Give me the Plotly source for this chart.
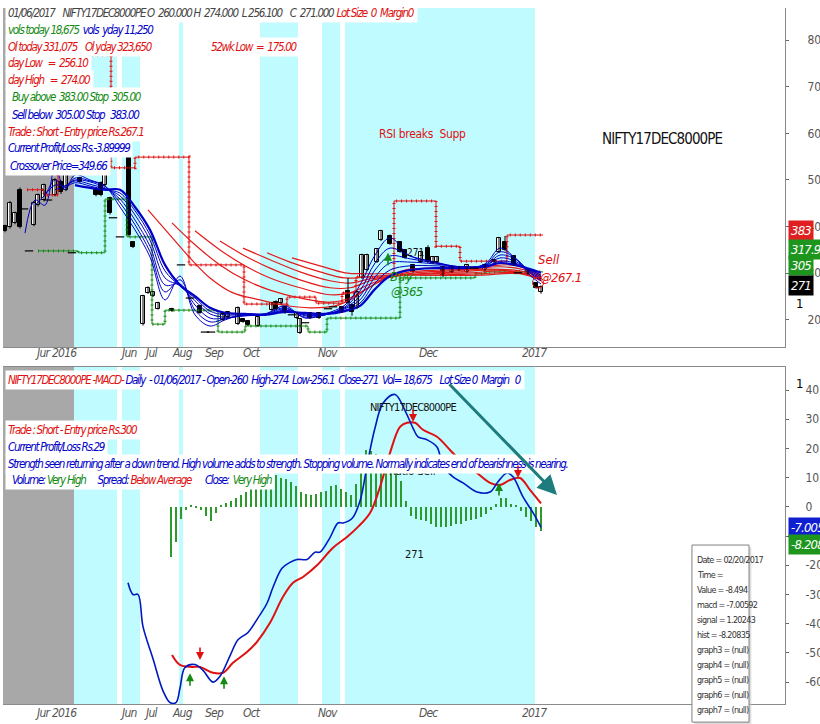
import plotly.graph_objects as go

NARROW = "Liberation Sans Narrow, Arial Narrow, DejaVu Sans Condensed, Liberation Sans, sans-serif"
CYAN = '#bffbff'
GRAY_BAND = '#a8a8a8'
BLUE = '#0000c8'
RED = '#e01010'
GREEN = '#138a13'

# ---------------- price panel (x = bar slot) ----------------
CANDLE_X = [1.0, 2.0, 3.0, 4.0, 4.8, 5.8, 6.8, 7.6, 8.8, 9.6, 11.0, 12.2, 13.2, 14.4, 16.0,
            19.2, 20.2, 21.0, 22.0, 22.6, 24.0, 25.8, 26.6, 28.6, 29.6, 30.6, 31.6, 34.4,
            36.2, 38.0, 40.0, 41.0, 42.2, 44.6, 45.6, 47.6, 48.6, 49.6, 51.6, 54.4, 55.2,
            56.2, 57.0, 58.4, 59.4, 60.0, 61.0, 62.0, 63.8, 65.6, 66.6, 68.4, 69.6, 70.4,
            71.4, 72.4, 73.4, 75.4, 76.2, 78.0, 80.0, 81.0, 82.6, 84.2, 85.6, 86.6, 87.4,
            88.6, 90.4, 91.8, 93.4, 94.8, 97.0, 98.8, 99.8, 101.0, 102.8, 103.6, 105.6,
            107.2, 108.2]
OPEN = [401, 399, 408, 479, 438, 348, 404, 446, 457, 457, 468, 496, 479, 344, 504,
        479, 494, 489, 461, 419, 378, 575, 367, 191, 258, 251, 224, 224,
        318, 247, 230, 174, 174, 200, 206, 191, 202, 198, 187, 221, 239,
        236, 228, 211, 204, 172, 194, 215, 215, 224, 228, 228, 262, 232,
        226, 290, 307, 324, 371, 380, 367, 350, 318, 324, 354, 322, 324,
        314, 303, 314, 303, 311, 307, 329, 346, 367, 337, 301, 307,
        279, 260]
HIGH = [404, 455, 432, 484, 438, 348, 455, 471, 492, 457, 504, 499, 521, 344, 507,
        482, 497, 547, 464, 419, 378, 580, 369, 254, 272, 262, 239, 226,
        318, 247, 233, 174, 174, 216, 219, 229, 204, 200, 208, 239, 242,
        247, 230, 211, 217, 204, 194, 217, 217, 224, 228, 230, 290, 234,
        262, 342, 342, 354, 393, 383, 369, 352, 320, 348, 360, 337, 337,
        316, 316, 316, 320, 311, 320, 331, 378, 380, 339, 301, 309,
        281, 274]
LOW = [388, 396, 405, 396, 438, 348, 401, 443, 454, 457, 465, 470, 476, 344, 494,
       465, 465, 486, 426, 419, 378, 379, 354, 188, 256, 249, 222, 217,
       318, 247, 213, 174, 174, 198, 204, 189, 194, 187, 185, 219, 222,
       234, 213, 211, 202, 170, 194, 202, 202, 224, 228, 215, 234, 209,
       224, 288, 305, 322, 369, 361, 344, 331, 301, 322, 322, 320, 322,
       292, 301, 305, 301, 311, 305, 322, 344, 348, 316, 301, 297,
       267, 256.1]
CLOSE = [391, 451, 429, 399, 438, 348, 451, 468, 489, 457, 500, 474, 517, 344, 496,
         468, 468, 543, 429, 419, 378, 382, 356, 251, 269, 260, 236, 219,
         318, 247, 215, 174, 174, 213, 217, 226, 196, 189, 206, 236, 224,
         245, 215, 211, 215, 202, 194, 204, 204, 224, 228, 217, 236, 217,
         260, 339, 339, 352, 391, 363, 346, 333, 303, 346, 324, 335, 335,
         296, 314, 307, 318, 311, 318, 324, 376, 350, 318, 301, 299,
         269, 271]

# short-term moving averages (blue ribbon)
BLUE_X = [5, 7, 9, 11, 13, 15, 18, 21, 24, 27, 30, 33, 36, 39, 42, 45, 49, 53, 57, 61,
          65, 69, 72, 75, 78, 82, 87, 92, 97, 100, 103, 106, 108.2]
BLUE_1 = [386, 457, 446, 526, 479, 511, 500, 487, 442, 393, 335, 243, 294, 211, 187, 200, 213,
          213, 230, 204, 213, 232, 275, 339, 376, 337, 324, 311, 320, 354, 333, 296, 277]
BLUE_2 = [None, 446, 468, 500, 483, 504, 498, 487, 451, 404, 346, 260, 286, 221, 196, 202, 211,
          213, 226, 206, 211, 228, 262, 322, 354, 337, 324, 314, 318, 346, 333, 301, 284]
BLUE_3 = [None, None, 468, 489, 487, 500, 496, 483, 459, 414, 358, 275, 277, 232, 204, 204, 209,
          211, 224, 209, 211, 226, 251, 307, 337, 331, 322, 314, 316, 339, 331, 303, 288]
BLUE_4 = [None, None, None, 479, 487, 498, 491, 481, 466, 425, 371, 290, 273, 241, 213, 206, 209,
          211, 221, 211, 211, 224, 243, 292, 322, 324, 320, 314, 316, 333, 326, 305, 292]
BLUE_5 = [None, None, None, None, 483, 494, 487, 479, 472, 434, 382, 305, 273, 247, 219, 211, 211,
          211, 219, 213, 213, 221, 236, 279, 307, 316, 316, 314, 314, 326, 322, 307, 296]
BLUE_6 = [None, None, None, None, None, 489, 483, 479, 479, 442, 393, 318, 275, 251, 226, 215, 213,
          211, 217, 215, 213, 219, 230, 266, 294, 307, 311, 311, 314, 322, 318, 309, 301]

# long-term moving averages (red ribbon), each starts later
RED_LINES = [
    ([29.6, 34, 38, 42, 46.6, 52, 56.6, 62, 67, 70, 73, 77, 81, 86, 92, 98, 102, 105, 108.2],
     [436, 382, 333, 290, 258, 243, 232, 226, 230, 243, 264, 290, 307, 311, 311, 316, 318, 311, 296]),
    ([34.4, 39, 44, 49, 54, 60, 66, 70, 74, 78, 82, 88, 94, 100, 105, 108.2],
     [408, 361, 318, 286, 264, 247, 238, 247, 271, 292, 303, 307, 309, 314, 307, 294]),
    ([39, 44, 49, 54, 60, 66, 70, 74, 78, 83, 90, 98, 104, 108.2],
     [391, 350, 316, 290, 269, 254, 258, 277, 292, 301, 305, 309, 305, 292]),
    ([44, 49, 54, 60, 66, 70, 74, 79, 84, 92, 100, 108.2],
     [369, 337, 311, 286, 269, 269, 284, 294, 299, 303, 307, 290]),
    ([48.6, 54, 60, 66, 70, 74, 79, 86, 94, 102, 108.2],
     [354, 329, 303, 284, 279, 288, 294, 299, 301, 305, 288]),
    ([53.4, 58, 64, 69, 73, 78, 86, 96, 104, 108.2],
     [344, 324, 303, 290, 292, 296, 296, 299, 301, 286]),
    ([58.4, 64, 69, 73, 78, 86, 96, 104, 108.2],
     [333, 316, 301, 299, 299, 296, 296, 299, 284]),
]

# resistance / support step lines
RES_X = [5.4, 8.8, 11.6, 22.2, 27, 37.8, 48.8, 57.4, 63.2, 68.4, 71.2, 78.8, 87.2, 92, 101.4, 108.6]
RES_Y = [479, 468, 768, 526, 549, 318, 234, 249, 236, 258, 292, 455, 358, 326, 382, 382]
SUP_X = [7.6, 15.6, 21, 25.4, 30.4, 33, 43.6, 49, 61.6, 65.4, 80, 95, 97, 108.6]
SUP_Y = [348, 344, 459, 378, 191, 221, 174, 187, 174, 204, 290, 299, 303, 303]

# ---------------- MACD panel ----------------
MACD_X = [25.6, 26.6, 27.6, 28.6, 30.6, 32.6, 34, 35.2, 36, 37, 39, 40.6, 42.6, 44, 46, 47.6,
          49.6, 51.6, 53.4, 54.6, 56.4, 58, 59.4, 61.4, 63, 64, 66, 67.6, 68.6, 70.4, 72, 73.6,
          75, 76.6, 79, 81, 82.6, 83.6, 85.4, 87.4, 88.6, 90.6, 92.6, 95.4, 98, 99.6, 101.4,
          102.6, 104.6, 106.6, 108.2]
MACD = [-26, -30, -30, -41, -52, -63, -67, -67, -62, -55, -54, -56, -60, -58, -51, -45.5,
        -43, -38, -33, -27.5, -21, -19, -18, -18, -15.5, -15.5, -10.5, -5.5, -5.5, -4, 2, 16,
        27, 35.5, 38.5, 33, 27, 24, 23, 20.5, 14, 10.3, 8.2, 5.1, 5.1, 8.6, 11.6,
        10.3, 3.4, -2, -7.006]
SIGNAL_X = [34.4, 36, 38.4, 40, 42.6, 44.6, 46.6, 49.4, 51.4, 54, 56.6, 58.6, 60.6, 63.4, 66.6,
            69.4, 71.4, 74, 76, 78, 80, 81.4, 83, 84.6, 87.4, 90, 92.6, 95.4, 98, 100, 102,
            104, 106, 108.2]
SIGNAL = [-50.7, -54.1, -54.8, -54.8, -56.8, -56.8, -53.4, -49.7, -46.2, -39.7, -30.8, -26,
          -24, -20, -14, -10.3, -7.2, -2.1, 6.8, 18.5, 27.4, 28.8, 28.8, 26.4, 24, 19.5, 15.1,
          11.6, 8.2, 7.5, 9.2, 9.9, 5.8, 1.2]
HIST = [-17, -12, -4, -1, 0.5, -0.5, -1, -3, -5, -2, 0.5, 1.5, 2, 3, 4, 5, 6, 7, 8, 9, 10, 11,
        10, 9.5, 8.5, 7, 5, 4.5, 4, 4.5, 5, 5.5, 7, 7.5, 6, 5, 4, 8, 14, 19.5, 19, 18, 17, 16,
        14, 12, 9, 2, -3, -4, -4.5, -5, -6, -7, -7, -7, -6.5, -6, -6, -5, -4.5, -4, -3.5, -2.5,
        -1, 1, 3, 3, 1, 0.5, -1.5, -3.5, -5, -7, -8.2]
HIST_X = [108.2 - (len(HIST) - 1 - i) for i in range(len(HIST))]

# background sessions
GRAY_SPAN = (0.6, 14.8)
CYAN_SPANS = [(14.8, 23.4), (24.4, 28.0), (35.8, 36.6), (52.0, 59.6), (64.4, 68.0), (69.0, 107.0)]

# axis labels
TICK_POS = [8.4, 12.8, 25.6, 30, 36.4, 42.8, 50.4, 65.6, 85.6, 106.8]
TICK_TXT = ['Jur', '2016', 'Jun', 'Jul', 'Aug', 'Sep', 'Oct', 'Nov', 'Dec', '2017']
PRICE_TICKS = [200, 300, 400, 500, 600, 700, 800]
MACD_TICKS = [-60, -50, -40, -30, -20, -10, 0, 10, 20, 30, 40]

TOOLTIP = ['Date = 02/20/2017', 'Time =', 'Value = -8.494', 'macd = -7.00592',
           'signal = 1.20243', 'hist = -8.20835', 'graph3 = (null)', 'graph4 = (null)',
           'graph5 = (null)', 'graph6 = (null)', 'graph7 = (null)']


def sp(s):
    return s.replace('  ', '\u00a0 ')


def col(s, c, ls=-1.3):
    return f'<span style="color:{c};letter-spacing:{ls}px">{sp(s)}</span>'


def squeeze(s, ls):
    return f'<span style="letter-spacing:{ls}px">{s}</span>'


fig = go.Figure()

# session shading
for ax, ay in (('x', 'y'), ('x2', 'y2')):
    fig.add_shape(type='rect', xref=ax, yref=f'{ay} domain', x0=GRAY_SPAN[0], x1=GRAY_SPAN[1],
                  y0=0, y1=1, fillcolor=GRAY_BAND, line_width=0, layer='below')
    for x0, x1 in CYAN_SPANS:
        fig.add_shape(type='rect', xref=ax, yref=f'{ay} domain', x0=x0, x1=x1, y0=0, y1=1,
                      fillcolor=CYAN, line_width=0, layer='below')

# step lines
for xs, ys, c in ((RES_X, RES_Y, RED), (SUP_X, SUP_Y, GREEN)):
    fig.add_trace(go.Scatter(x=xs, y=ys, mode='lines', line=dict(color=c, width=1, shape='hv')))
    fig.add_trace(go.Scatter(x=xs, y=ys, mode='lines',
                             line=dict(color=c, width=3, shape='hv', dash='1px,4px')))

# red ribbon
for xs, ys in RED_LINES:
    fig.add_trace(go.Scatter(x=xs, y=ys, mode='lines', line=dict(color='#e41a1a', width=1.2, shape='spline')))

# blue ribbon
for k, ys in enumerate([BLUE_1, BLUE_2, BLUE_3, BLUE_4, BLUE_5, BLUE_6]):
    fig.add_trace(go.Scatter(x=BLUE_X, y=ys, mode='lines',
                             line=dict(color=BLUE, width=2.2 if k == 5 else 1, shape='spline')))

# candles
wx, wy = [], []
for x, h, l in zip(CANDLE_X, HIGH, LOW):
    wx += [x, x, None]
    wy += [l, h, None]
fig.add_trace(go.Scatter(x=wx, y=wy, mode='lines', line=dict(color='black', width=1)))

up = [(x, o, c) for x, o, c in zip(CANDLE_X, OPEN, CLOSE) if c > o]
dn = [(x, o, c) for x, o, c in zip(CANDLE_X, OPEN, CLOSE) if c < o]
flat = [(x, o) for x, o, c in zip(CANDLE_X, OPEN, CLOSE) if c == o]
for group, fillc in ((up, 'white'), (dn, 'black')):
    fig.add_trace(go.Bar(x=[g[0] for g in group], base=[min(g[1], g[2]) for g in group],
                         y=[abs(g[2] - g[1]) for g in group], width=0.8,
                         marker=dict(color=fillc, line=dict(color='black', width=1))))
fig.add_trace(go.Scatter(x=[f[0] for f in flat], y=[f[1] for f in flat], mode='markers',
                         marker=dict(symbol='line-ew', size=6, line=dict(color='black', width=1.2))))

# sell circle
fig.add_trace(go.Scatter(x=[107.6], y=[280], mode='markers',
                         marker=dict(symbol='circle-open', size=11, color=RED, line=dict(width=1))))

# MACD panel
fig.add_trace(go.Bar(x=HIST_X, y=HIST, width=0.3, marker=dict(color='#2e9a2e', line_width=0),
                     xaxis='x2', yaxis='y2'))
fig.add_trace(go.Scatter(x=SIGNAL_X, y=SIGNAL, mode='lines', line=dict(color=RED, width=2, shape='spline'),
                         xaxis='x2', yaxis='y2'))
fig.add_trace(go.Scatter(x=MACD_X, y=MACD, mode='lines', line=dict(color='#0018c0', width=1.6, shape='spline'),
                         xaxis='x2', yaxis='y2'))

ann = []


def txt(text, x, y, size=11.5, color='black', xanchor='left', bg='white', italic=True,
        xref='paper', yref='paper', pad=2):
    ann.append(dict(text=text, x=x, y=y, xref=xref, yref=yref, xanchor=xanchor, yanchor='middle',
                    showarrow=False, bgcolor=bg, borderpad=pad,
                    font=dict(family=NARROW, size=size, color=color, style='italic' if italic else 'normal')))


# chart labels (drawn first so the info boxes sit on top)
txt(squeeze('RSI breaks  Supp', -0.3), 0.537, 0.819, size=12, color=RED, xanchor='center', bg=None, italic=False)
txt(squeeze('NIFTY17DEC8000PE', -0.9), 0.843, 0.812, size=15, color='#111', xanchor='center', bg=None, italic=False)
txt('Sell', 107.0, 329, size=13, color=RED, bg=None, xref='x', yref='y')
txt(squeeze('@267.1', -0.6), 107.4, 292, size=13, color=RED, bg=None, xref='x', yref='y')
txt('Buy', 77.4, 294, size=13, color=GREEN, bg=None, xref='x', yref='y')
txt(squeeze('@365', -0.6), 77.6, 262, size=13, color=GREEN, bg=None, xref='x', yref='y')
txt('271', 80.8, 344, size=10, color='#111', bg=None, italic=False, xref='x', yref='y')
txt(squeeze('NIFTY17DEC8000PE', -0.8), 82.6, 34.2, size=11, color='#111', xanchor='center', bg=None,
    italic=False, xref='x2', yref='y2')
txt('Ratio Sell', 82.4, 12.0, size=11, color='#111', xanchor='center', bg=None, italic=False,
    xref='x2', yref='y2')
txt('271', 82.8, -16.4, size=11, color='#111', xanchor='center', bg=None, italic=False,
    xref='x2', yref='y2')

# top-left info block
x0 = 0.002
txt(col('01/06/2017    NIFTY17DEC8000PE O  260.000 H  274.000  L 256.100    C  271.000', '#444')
    + ' ' + col('Lot Size  0  Margin0', RED), x0, 0.9928)
txt(col('vols today 18,675', GREEN) + col('  vols  yday 11,250', BLUE), x0, 0.9684)
txt(col('Ol today 331,075    Ol yday 323,650', RED), x0, 0.9440)
txt(col('52wk Low  =  175.00', RED), 0.262, 0.9440)
txt(col('day Low   =  256.10', RED), x0, 0.9210)
txt(col('day High   =  274.00', RED), x0, 0.8966)
txt(col('  Buy above  383.00 Stop  305.00', GREEN), x0, 0.8721)
txt(col('  Sell below  305.00 Stop   383.00', BLUE), x0, 0.8463)
txt(col('Trade : Short - Entry price Rs.267.1', RED), x0, 0.8218)
txt(col('Current Profit/Loss Rs.-3.89999', BLUE), x0, 0.7989)
txt(col(' Crossover Price=349.66', BLUE), x0, 0.7730)

# MACD info block
txt(col('NIFTY17DEC8000PE -MACD-', RED)
    + col(' Daily  - 01/06/2017 - Open-260  High-274  Low-256.1  Close-271  Vol= 18,675    Lot Size 0  Margin   0', BLUE),
    x0, 0.4655)
txt(col('Trade : Short - Entry price Rs.300', RED), x0, 0.3937)
txt(col('Current Profit/Loss Rs.29', BLUE), x0, 0.3693)
txt(col('Strength seen returning after a down trend. High volume adds to strength. Stopping volume. '
        'Normally indicates end of bearishness is nearing.', BLUE), x0, 0.3448)
txt(col('  Volume: ', BLUE) + col('Very High', GREEN) + col('      Spread: ', BLUE)
    + col('Below Average', RED) + col('       Close:  ', BLUE) + col('Very High', GREEN), x0, 0.3218)

# month labels under each panel
for ypos in (0.5043, -0.0129):
    for pos, lab in zip(TICK_POS, TICK_TXT):
        ann.append(dict(text=squeeze(lab, -0.8), x=pos, y=ypos, xref='x', yref='paper',
                        xanchor='center', yanchor='middle', showarrow=False,
                        font=dict(family=NARROW, size=12, color='#555', style='italic')))

# value tags on the right axis
for text, y, bg, yr in (('383', 391, '#e02020', 'y'), ('317.946', 352, '#1e961e', 'y'),
                        ('305', 316, '#1e961e', 'y'), ('271', 273, 'black', 'y'),
                        ('-7.0059', -7.2, '#1020d0', 'y2'), ('-8.2083', -13.0, '#1e961e', 'y2')):
    ann.append(dict(text=squeeze(text, -0.8), x=1.004, y=y, xref='paper', yref=yr, xanchor='left',
                    yanchor='middle', showarrow=False, bgcolor=bg, borderpad=2,
                    font=dict(family=NARROW, size=13, color='white', style='italic')))
for y, yr in ((236, 'y'), (42.1, 'y2')):
    ann.append(dict(text='1', x=1.012, y=y, xref='paper', yref=yr, xanchor='left', showarrow=False,
                    font=dict(family=NARROW, size=13, color='black')))

# signal arrows
for x, y, c, d, xr, yr in ((38.0, -57, GREEN, 1, 'x2', 'y2'), (44.8, -58, GREEN, 1, 'x2', 'y2'),
                           (99.8, 8.2, GREEN, 1, 'x2', 'y2'), (40.0, -52.4, RED, -1, 'x2', 'y2'),
                           (82.6, 29.1, RED, -1, 'x2', 'y2'), (103.6, 9.9, RED, -1, 'x2', 'y2'),
                           (77.6, 344, GREEN, 1, 'x', 'y')):
    ann.append(dict(x=x, y=y, xref=xr, yref=yr, ax=0, ay=14 * d, showarrow=True, arrowhead=2,
                    arrowsize=1, arrowwidth=1.6, arrowcolor=c, text=''))

# drawn trend arrow
ann.append(dict(x=111.4, y=4.1, ax=89.6, ay=42.5, xref='x2', yref='y2', axref='x2', ayref='y2',
                showarrow=True, arrowhead=2, arrowsize=1.3, arrowwidth=3, arrowcolor='#1f7c7c', text=''))

# tooltip box
fig.add_shape(type='rect', xref='paper', yref='paper', x0=0.884, x1=0.957, y0=-0.030, y1=0.225,
              fillcolor='#c8c8c8', line_width=0, opacity=0.6)
fig.add_shape(type='rect', xref='paper', yref='paper', x0=0.881, x1=0.954, y0=-0.026, y1=0.2284,
              fillcolor='white', line=dict(color='#808080', width=1))
for i, t in enumerate(TOOLTIP):
    ann.append(dict(text=squeeze(t, -0.7), x=0.885, y=0.2069 - i * 0.02155, xref='paper', yref='paper',
                    xanchor='left', yanchor='middle', showarrow=False,
                    font=dict(family=NARROW, size=9, color='#333')))

yfont = dict(family=NARROW, size=12, color='#555')
fig.update_layout(
    width=820, height=724,
    margin=dict(l=3, r=35, t=8, b=20, autoexpand=False),
    paper_bgcolor='white', plot_bgcolor='white',
    showlegend=False, hovermode=False, barmode='overlay', bargap=0,
    annotations=ann,
    xaxis=dict(domain=[0, 1], range=[0.6, 157], anchor='y', showgrid=False, zeroline=False,
               showticklabels=False, ticks='', showline=True, linecolor='#8a8a8a', automargin=False),
    yaxis=dict(domain=[0.513, 1], range=[142.1, 868.6], anchor='x', side='right',
               showgrid=False, zeroline=False, tickvals=PRICE_TICKS, automargin=False,
               ticks='outside', ticklen=3, tickcolor='#666', ticklabelstandoff=16,
               tickfont=yfont, showline=True, linecolor='#8a8a8a'),
    xaxis2=dict(domain=[0, 1], range=[0.6, 157], anchor='y2', showgrid=False, zeroline=False,
                showticklabels=False, ticks='', showline=True, mirror=True, linecolor='#8a8a8a',
                automargin=False),
    yaxis2=dict(domain=[0, 0.4842], range=[-67.5, 47.9], anchor='x2', side='right',
                showgrid=False, zeroline=False, tickvals=MACD_TICKS, automargin=False,
                ticktext=['' if v == -10 else str(v) for v in MACD_TICKS],
                ticks='outside', ticklen=3, tickcolor='#666', ticklabelstandoff=14,
                tickfont=yfont, showline=True, linecolor='#8a8a8a'),
)

# page body margin would shift the whole figure; drop it
fig.write_html("out.html", config={'displayModeBar': False},
               post_script="document.body.style.margin='0';document.body.style.padding='0';")
